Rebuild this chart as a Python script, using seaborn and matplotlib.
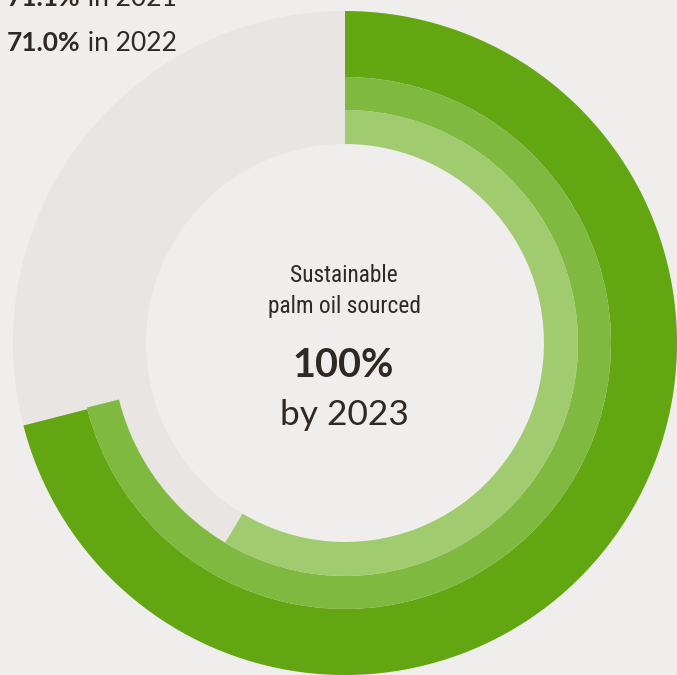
import matplotlib
matplotlib.use("Agg")
import matplotlib.pyplot as plt
import seaborn as sns
from matplotlib import font_manager

sns.set_theme(style="white")

# Data
ring_labels = ["2022", "2021", "2020"]
ring_values = [71.0, 71.1, 58.6]
ring_colors = ["#62a611", "#80b940", "#a0cb6e"]
label_years = ["2021", "2022"]
label_values = ["71.1%", "71.0%"]
center_title = ["Sustainable", "palm oil sourced"]
target_value = "100%"
target_year = "by 2023"

BG = "#efeeec"
TRACK = "#e8e5e2"
TXT = "#2f2823"

names = {f.name for f in font_manager.fontManager.ttflist}
narrow = "Roboto"
for cand in ["Roboto Condensed", "Liberation Sans Narrow", "Open Sans Condensed",
             "Noto Sans Condensed", "DejaVu Sans Condensed"]:
    if cand in names:
        narrow = cand
        break

W, H = 677, 675
fig = plt.figure(figsize=(W / 100, H / 100), dpi=100, facecolor=BG)
ax = fig.add_axes([0, 0, 1, 1])
ax.set_facecolor(BG)

cx, cy = 345, H - 343
R_out = 332
R_in = 199
widths = [66, 33, 34]

# gray track
ax.pie([1], radius=R_out, center=(cx, cy), colors=[TRACK],
       wedgeprops=dict(width=R_out - R_in, linewidth=0), startangle=90)

r = R_out
for v, c, w in zip(ring_values, ring_colors, widths):
    ax.pie([v, 100 - v], radius=r, center=(cx, cy), colors=[c, "none"],
           startangle=90, counterclock=False,
           wedgeprops=dict(width=w, linewidth=0))
    r -= w

ax.set_xlim(0, W)
ax.set_ylim(0, H)
ax.set_aspect("equal")
ax.axis("off")

# center texts
for line, b in zip(center_title, [282, 313]):
    ax.text(cx - 1, H - b, line, ha="center", va="baseline", fontsize=16.8,
            family=narrow, color=TXT)
ax.text(cx - 2, H - 377, target_value, ha="center", va="baseline", fontsize=28.5,
        family="Lato", weight="bold", color=TXT)
ax.text(cx - 1, H - 425, target_year, ha="center", va="baseline", fontsize=25.5,
        family="Lato", color=TXT)

# left labels (mixed weight)
fig.canvas.draw()
renderer = fig.canvas.get_renderer()
baselines = [6, 51]
for val, yr, b in zip(label_values, label_years, baselines):
    t1 = ax.text(7, H - b, val, ha="left", va="baseline", fontsize=19,
                 family="Lato", weight="bold", color=TXT)
    bb = t1.get_window_extent(renderer=renderer)
    x1 = ax.transData.inverted().transform((bb.x1, bb.y0))[0]
    ax.text(x1, H - b, " in " + yr, ha="left", va="baseline", fontsize=19,
            family="Lato", color=TXT)

fig.savefig("out.png", dpi=100, facecolor=BG)
